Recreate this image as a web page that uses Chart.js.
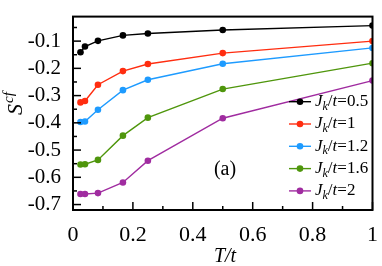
<!DOCTYPE html>
<html>
<head>
<meta charset="utf-8">
<script src="https://cdn.jsdelivr.net/npm/chart.js@4/dist/chart.umd.min.js"></script>
<style>
  html, body { margin: 0; padding: 0; background: #fff; }
  #wrap { width: 382px; height: 266px; }
  .precarga { position: absolute; left: -1000px; top: 0; font-family: "Liberation Serif"; }
</style>
</head>
<body>
<div class="precarga">0.1 <i>Jt</i></div>
<div id="wrap"><canvas id="grafico"></canvas></div>
<script>
// Datos
const temperaturas = [0.025, 0.04, 0.0833, 0.1667, 0.25, 0.5, 1];
const jk05 = [-0.141, -0.120, -0.099, -0.079, -0.072, -0.059, -0.043];
const jk1  = [-0.325, -0.320, -0.260, -0.210, -0.184, -0.144, -0.100];
const jk12 = [-0.397, -0.395, -0.352, -0.280, -0.242, -0.183, -0.125];
const jk16 = [-0.553, -0.552, -0.536, -0.447, -0.381, -0.276, -0.181];
const jk2  = [-0.661, -0.661, -0.658, -0.619, -0.539, -0.383, -0.245];

const etiquetasJk = ["0.5", "1", "1.2", "1.6", "2"];
const colores = ["#000000", "#ff2d10", "#1e9bff", "#4f960c", "#a02ca0"];

const ticksX = [0, 0.2, 0.4, 0.6, 0.8, 1];
const ticksXMenores = [0.1, 0.3, 0.5, 0.7, 0.9];
const ticksY = [-0.1, -0.2, -0.3, -0.4, -0.5, -0.6, -0.7];
const ticksYMenores = [-0.05, -0.15, -0.25, -0.35, -0.45, -0.55, -0.65];

const serif = "\"Liberation Serif\", \"Times New Roman\", serif";

function serie(valores, i) {
  return {
    label: "Jk/t=" + etiquetasJk[i],
    data: temperaturas.map((t, k) => ({ x: t, y: valores[k] })),
    borderColor: colores[i],
    backgroundColor: colores[i],
    borderWidth: 1.4,
    pointRadius: 3.3,
    pointBorderWidth: 0,
    tension: 0
  };
}

// Marco, ticks hacia dentro, titulos y leyenda
const decoracion = {
  id: "decoracion",
  afterDraw(chart) {
    const c = chart.ctx;
    const a = chart.chartArea;
    const sx = chart.scales.x;
    const sy = chart.scales.y;
    c.save();
    c.strokeStyle = "#000";
    c.lineWidth = 1.5;
    ticksX.forEach(v => {
      const px = sx.getPixelForValue(v);
      c.beginPath(); c.moveTo(px, a.bottom); c.lineTo(px, a.bottom - 8); c.stroke();
    });
    ticksXMenores.forEach(v => {
      const px = sx.getPixelForValue(v);
      c.beginPath(); c.moveTo(px, a.bottom); c.lineTo(px, a.bottom - 4); c.stroke();
    });
    ticksY.forEach(v => {
      const py = sy.getPixelForValue(v);
      c.beginPath(); c.moveTo(a.left, py); c.lineTo(a.left + 8, py); c.stroke();
    });
    ticksYMenores.forEach(v => {
      const py = sy.getPixelForValue(v);
      c.beginPath(); c.moveTo(a.left, py); c.lineTo(a.left + 4, py); c.stroke();
    });
    c.lineWidth = 2;
    c.strokeRect(a.left, a.top, a.right - a.left, a.bottom - a.top);

    c.fillStyle = "#000";
    c.textBaseline = "middle";

    // (a)
    c.font = "20px " + serif;
    c.textAlign = "center";
    c.fillText("(a)", 225, 170);

    // titulo eje x
    c.font = "italic 20px " + serif;
    c.fillText("T/t", 225, 257);

    // titulo eje y: S^cf
    c.save();
    c.translate(16, 104);
    c.rotate(-Math.PI / 2);
    c.textAlign = "left";
    c.font = "italic 22px " + serif;
    const wS = c.measureText("S").width;
    c.font = "italic 15px " + serif;
    const wCf = c.measureText("cf").width;
    const x0 = -(wS + wCf) / 2;
    c.font = "italic 22px " + serif;
    c.fillText("S", x0, 0);
    c.font = "italic 15px " + serif;
    c.fillText("cf", x0 + wS + 1, -7);
    c.restore();

    // leyenda
    c.textAlign = "left";
    etiquetasJk.forEach((et, i) => {
      const y = 101.7 + i * 22.3;
      c.strokeStyle = colores[i];
      c.fillStyle = colores[i];
      c.lineWidth = 1.4;
      c.beginPath(); c.moveTo(289, y); c.lineTo(311, y); c.stroke();
      c.beginPath(); c.arc(300, y, 3.3, 0, Math.PI * 2); c.fill();
      c.fillStyle = "#000";
      let x = 315;
      c.font = "italic 17px " + serif;
      c.fillText("J", x, y); x += c.measureText("J").width;
      c.font = "italic 12px " + serif;
      c.fillText("k", x, y + 5); x += c.measureText("k").width;
      c.font = "17px " + serif;
      c.fillText("/", x, y); x += c.measureText("/").width;
      c.font = "italic 17px " + serif;
      c.fillText("t", x, y); x += c.measureText("t").width;
      c.font = "17px " + serif;
      c.fillText("=" + et, x, y);
    });
    c.restore();
  }
};

function crearGrafico() {
  const ctx = document.getElementById("grafico").getContext("2d");
  return new Chart(ctx, {
    type: "line",
    data: {
      datasets: [serie(jk05, 0), serie(jk1, 1), serie(jk12, 2), serie(jk16, 3), serie(jk2, 4)]
    },
    options: {
      responsive: true,
      maintainAspectRatio: false,
      animation: false,
      layout: { padding: { left: 0, right: 6, top: 5, bottom: 0 } },
      plugins: {
        legend: { display: false },
        tooltip: { enabled: false }
      },
      scales: {
        x: {
          type: "linear",
          min: 0,
          max: 1,
          grid: { display: false },
          border: { display: false },
          afterBuildTicks: s => { s.ticks = ticksX.map(v => ({ value: v })); },
          afterFit: s => { s.height = 56; },
          ticks: {
            color: "#000",
            padding: 4,
            maxRotation: 0,
            font: { family: serif, size: 22 },
            callback: v => String(Math.round(v * 10) / 10)
          }
        },
        y: {
          min: -0.72,
          max: -0.01,
          grid: { display: false },
          border: { display: false },
          afterBuildTicks: s => { s.ticks = ticksY.map(v => ({ value: v })); },
          afterFit: s => { s.width = 73; },
          ticks: {
            color: "#000",
            padding: 4,
            font: { family: serif, size: 21 },
            callback: v => (Math.round(v * 10) / 10).toFixed(1)
          }
        }
      }
    },
    plugins: [decoracion]
  });
}

Promise.all([
  document.fonts.load("20px \"Liberation Serif\""),
  document.fonts.load("italic 20px \"Liberation Serif\"")
]).then(crearGrafico, crearGrafico);
</script>
</body>
</html>
